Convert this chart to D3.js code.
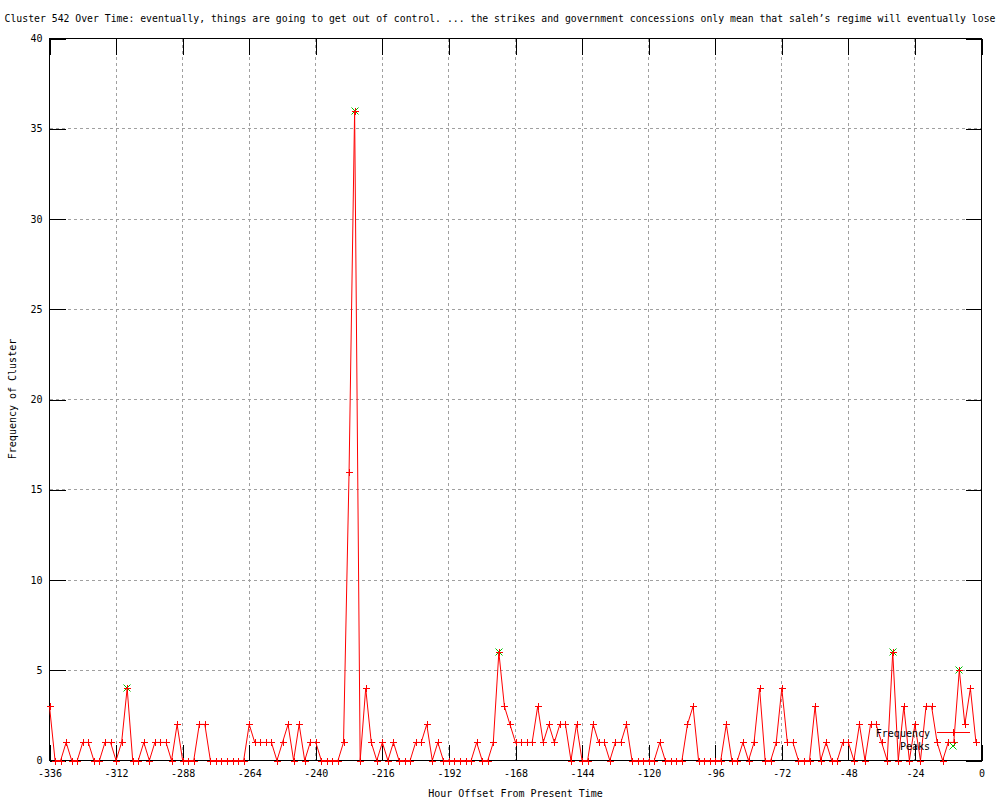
<!DOCTYPE html>
<html><head><meta charset="utf-8">
<script src="https://cdn.jsdelivr.net/npm/d3@7"></script>
<style>
body{margin:0;background:#fff}
svg{display:block}
text{font-family:"DejaVu Sans Mono",monospace;font-size:10px;fill:#000}
</style>
</head><body>
<svg id="chart" width="1000" height="800"></svg>
<script>
const hours = [
-336,-334,-332,-330,-328,-326,-324,-322,-320,-318,
-316,-314,-312,-310,-308,-306,-304,-302,-300,-298,
-296,-294,-292,-290,-288,-286,-284,-282,-280,-278,
-276,-274,-272,-270,-268,-266,-264,-262,-260,-258,
-256,-254,-252,-250,-248,-246,-244,-242,-240,-238,
-236,-234,-232,-230,-228,-226,-224,-222,-220,-218,
-216,-214,-212,-210,-208,-206,-204,-202,-200,-198,
-196,-194,-192,-190,-188,-186,-184,-182,-180,-178,
-176,-174,-172,-170,-168,-166,-164,-162,-160,-158,
-156,-154,-152,-150,-148,-146,-144,-142,-140,-138,
-136,-134,-132,-130,-128,-126,-124,-122,-120,-118,
-116,-114,-112,-110,-108,-106,-104,-102,-100,-98,
-96,-94,-92,-90,-88,-86,-84,-82,-80,-78,
-76,-74,-72,-70,-68,-66,-64,-62,-60,-58,
-56,-54,-52,-50,-48,-46,-44,-42,-40,-38,
-36,-34,-32,-30,-28,-26,-24,-22,-20,-18,
-16,-14,-12,-10,-8,-6,-4,-2];
const frequency = [
3,0,0,1,0,0,1,1,0,0,
1,1,0,1,4,0,0,1,0,1,
1,1,0,2,0,0,0,2,2,0,
0,0,0,0,0,0,2,1,1,1,
1,0,1,2,0,2,0,1,1,0,
0,0,0,1,16,36,0,4,1,0,
1,0,1,0,0,0,1,1,2,0,
1,0,0,0,0,0,0,1,0,0,
1,6,3,2,1,1,1,1,3,1,
2,1,2,2,0,2,0,0,2,1,
1,0,1,1,2,0,0,0,0,0,
1,0,0,0,0,2,3,0,0,0,
0,0,2,0,0,1,0,1,4,0,
0,1,4,1,1,0,0,0,3,0,
1,0,0,1,1,0,2,0,2,2,
1,0,6,0,3,0,2,0,3,3,
1,0,1,1,5,2,4,1];
const peakHours = [-308,-226,-174,-32,-8];
const peakValues = [4,36,6,6,5];
const xTickValues = [-336,-312,-288,-264,-240,-216,-192,-168,-144,-120,-96,-72,-48,-24,0];
const yTickValues = [0,5,10,15,20,25,30,35,40];
const titleText = "Cluster 542 Over Time: eventually, things are going to get out of control. ... the strikes and government concessions only mean that saleh\u2019s regime will eventually lose";
const xAxisLabel = "Hour Offset From Present Time";
const yAxisLabel = "Frequency of Cluster";
const legendLabels = ["Frequency","Peaks"];

const L = 49.5, R = 981.5, T = 38.5, B = 760.5;
const red = "#ff0000", green = "#00c000", gridColor = "#a0a0a0";
const tick = 16;

const svg = d3.select("#chart");
const x = d3.scaleLinear().domain([-336,0]).range([L,R]);
const y = d3.scaleLinear().domain([0,40]).range([B,T]);

// grid
const grid = svg.append("g").attr("stroke",gridColor).attr("stroke-width",1)
  .attr("stroke-dasharray","3,3").attr("shape-rendering","crispEdges");
grid.selectAll("line.gx").data(xTickValues.slice(1,-1)).enter().append("line")
  .attr("x1",d=>x(d)).attr("x2",d=>x(d)).attr("y1",T).attr("y2",B);
grid.selectAll("line.gy").data(yTickValues.slice(1,-1)).enter().append("line")
  .attr("x1",L).attr("x2",R).attr("y1",d=>y(d)).attr("y2",d=>y(d));

// axes with inward ticks
function styleAxis(g){
  g.select(".domain").remove();
  g.selectAll(".tick line").attr("stroke","#000").attr("shape-rendering","crispEdges");
  g.selectAll(".tick text").attr("font-family","DejaVu Sans Mono, monospace").attr("font-size",10).attr("fill","#000");
}
svg.append("g").attr("transform",`translate(0,${B})`)
  .call(d3.axisBottom(x).tickValues(xTickValues).tickSize(-tick).tickPadding(9).tickFormat(d3.format("d")))
  .call(styleAxis);
svg.append("g").attr("transform",`translate(0,${T})`)
  .call(d3.axisTop(x).tickValues(xTickValues).tickSize(-tick).tickFormat(""))
  .call(styleAxis);
svg.append("g").attr("transform",`translate(${L},0)`)
  .call(d3.axisLeft(y).tickValues(yTickValues).tickSize(-tick).tickPadding(7).tickFormat(d3.format("d")))
  .call(styleAxis);
svg.append("g").attr("transform",`translate(${R},0)`)
  .call(d3.axisRight(y).tickValues(yTickValues).tickSize(-tick).tickFormat(""))
  .call(styleAxis);
svg.selectAll(".tick text").text(function(){return d3.select(this).text().replace("\u2212","-");});

// frame
svg.append("rect").attr("x",L).attr("y",T).attr("width",R-L).attr("height",B-T)
  .attr("fill","none").attr("stroke","#000").attr("shape-rendering","crispEdges");

// data line
const pts = hours.map((h,i)=>({h, v:frequency[i]}));
svg.append("path").datum(pts)
  .attr("d", d3.line().x(d=>x(d.h)).y(d=>y(d.v)))
  .attr("fill","none").attr("stroke",red).attr("stroke-width",1);

const plusPath = "M-3.5,0H3.5M0,-3.5V3.5";
const crossPath = "M-3.5,-3.5L3.5,3.5M-3.5,3.5L3.5,-3.5";

// peaks (green x)
const peaks = peakHours.map((h,i)=>({h, v:peakValues[i]}));
svg.append("g").selectAll("path").data(peaks).enter().append("path")
  .attr("transform",d=>`translate(${Math.round(x(d.h))},${Math.round(y(d.v))})`)
  .attr("d",crossPath).attr("stroke",green).attr("stroke-width",1).attr("fill","none");

// frequency markers
svg.append("g").selectAll("path").data(pts).enter().append("path")
  .attr("transform",d=>`translate(${Math.round(x(d.h))+0.5},${Math.round(y(d.v))+0.5})`)
  .attr("d",plusPath).attr("stroke",red).attr("stroke-width",1).attr("fill","none");

// legend
const lg = svg.append("g");
lg.append("text").attr("x",930).attr("y",736.5).attr("text-anchor","end").text(legendLabels[0]);
lg.append("line").attr("x1",937).attr("x2",970).attr("y1",732.5).attr("y2",732.5).attr("stroke",red);
lg.append("path").attr("transform","translate(953.5,732.5)").attr("d",plusPath).attr("stroke",red);
lg.append("text").attr("x",930).attr("y",750).attr("text-anchor","end").text(legendLabels[1]);
lg.append("path").attr("transform","translate(953,746)").attr("d",crossPath).attr("stroke",green);

// titles
svg.append("text").attr("x",500).attr("y",22).attr("text-anchor","middle")
  .style("font-size","9.8px").text(titleText);
svg.append("text").attr("x",515.5).attr("y",796.5).attr("text-anchor","middle").text(xAxisLabel);
svg.append("text").attr("transform","translate(16,399) rotate(-90)").attr("text-anchor","middle").text(yAxisLabel);
</script>
</body></html>
